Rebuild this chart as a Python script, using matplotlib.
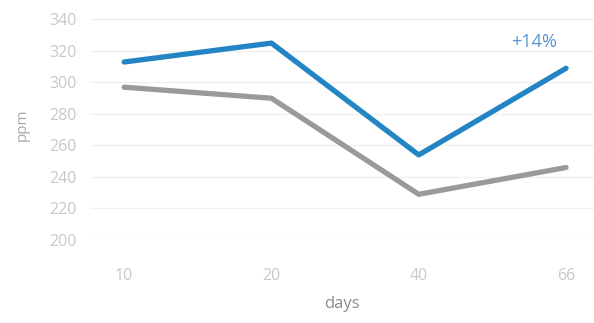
import matplotlib
matplotlib.use("Agg")
import matplotlib.pyplot as plt

days = ["10", "20", "40", "66"]
treated = [313, 325, 254, 309]
control = [297, 290, 229, 246]
y_ticks = [200, 220, 240, 260, 280, 300, 320, 340]

plt.rcParams["font.family"] = ["Open Sans", "DejaVu Sans"]

fig = plt.figure(figsize=(5.94, 3.23), dpi=100)
ax = fig.add_axes([0.152, 0.257, 0.848, 0.712])

x = list(range(len(days)))
ax.plot(x, control, color="#9a9a9a", lw=3.8, solid_capstyle="round", zorder=3)
ax.plot(x, treated, color="#2385c4", lw=3.8, solid_capstyle="round", zorder=4)

ax.text(2.78, 326, "+14%", color="#5a94cf", fontsize=13, ha="center", va="center")

ax.set_xlim(-0.23, 3.19)
ax.set_ylim(200, 346)
ax.set_xticks(x)
ax.set_xticklabels(days)
ax.set_yticks(y_ticks)
ax.grid(axis="y", color="#f0f0f0", lw=1)
ax.set_axisbelow(True)
for s in ax.spines.values():
    s.set_visible(False)
ax.tick_params(length=0, colors="#c8c8c8", labelsize=11.5)
ax.tick_params(axis="x", pad=20)
ax.tick_params(axis="y", pad=10)
ax.set_xlabel("days", color="#8c8c8c", fontsize=12, labelpad=9)
ax.set_ylabel("ppm", color="#aaaaaa", fontsize=11, labelpad=14)

fig.savefig("out.png", dpi=100, facecolor="white")
